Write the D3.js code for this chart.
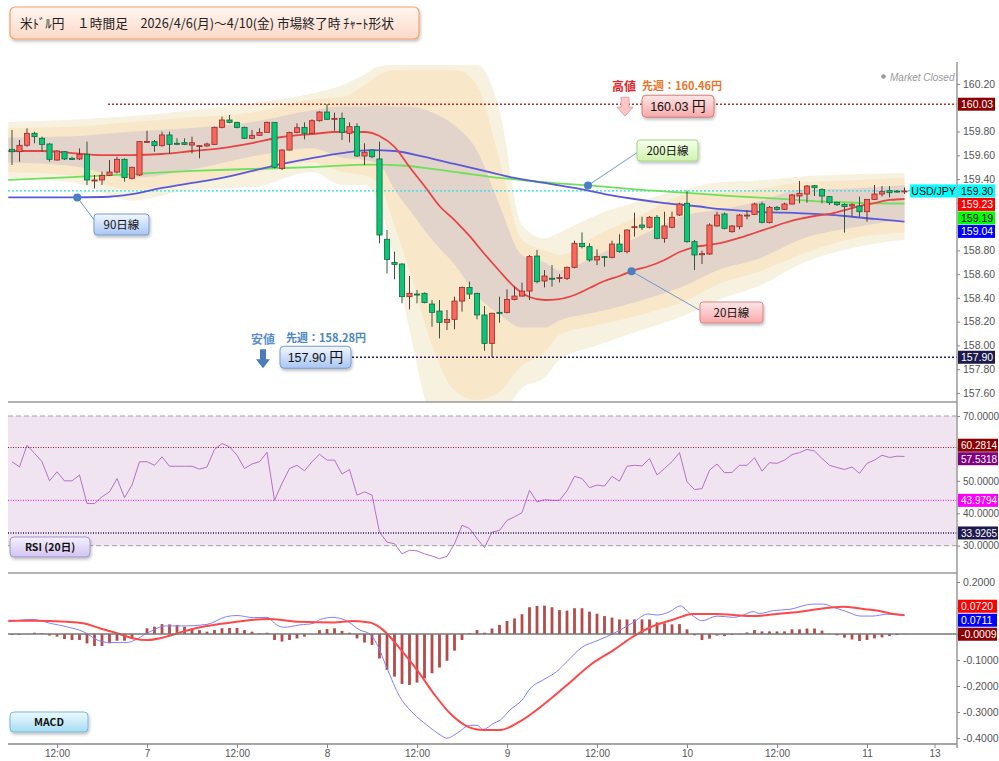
<!DOCTYPE html>
<html><head><meta charset="utf-8">
<script src="https://cdn.jsdelivr.net/npm/d3@7/dist/d3.min.js"></script>
<style>
html,body{margin:0;padding:0;background:#fff;}
svg{display:block;}
text{font-family:"Liberation Sans",Arial,sans-serif;}
.jp{font-family:"Noto Sans CJK JP","Noto Sans",sans-serif;}
</style></head><body>
<svg id="chart" width="999" height="761"></svg>
<script>
// ===================== DATA =====================
const firstHour = 6; // first candle: Apr 6 06:00 JST, one candle per hour (hour index from Apr 6 00:00)
const candleOpen = [159.650,159.630,159.684,159.785,159.743,159.695,159.560,159.630,159.574,159.569,
159.608,159.386,159.392,159.431,159.459,159.566,159.406,159.434,159.712,159.715,
159.681,159.771,159.701,159.706,159.686,159.678,159.678,159.692,159.835,159.897,
159.877,159.835,159.743,159.768,159.793,159.877,159.490,159.644,159.793,159.835,
159.785,159.891,159.964,159.903,159.911,159.785,159.841,159.594,159.644,159.569,
158.893,158.699,158.685,158.410,158.432,158.438,158.348,158.289,158.194,158.219,
158.373,158.488,158.438,158.256,158.017,158.278,158.278,158.387,158.415,158.457,
158.752,158.542,158.565,158.565,158.564,158.657,158.859,158.831,158.719,158.747,
158.741,158.853,158.789,158.994,159.013,158.994,159.078,158.901,158.994,159.097,
159.196,158.873,158.763,158.769,159.005,159.106,158.957,158.999,159.092,159.103,
159.190,159.033,159.162,159.145,159.190,159.257,159.274,159.344,159.313,159.252,
159.204,159.187,159.173,159.173,159.125,159.229,159.274,159.302,159.299,159.298];
const candleHigh = [159.813,159.729,159.827,159.799,159.757,159.701,159.644,159.636,159.588,159.658,
159.715,159.434,159.462,159.560,159.588,159.574,159.504,159.715,159.807,159.729,
159.799,159.799,159.743,159.743,159.757,159.686,159.706,159.841,159.925,159.939,
159.883,159.841,159.813,159.827,159.883,159.880,159.650,159.799,159.869,159.877,
159.903,159.970,160.030,159.959,159.959,159.877,159.869,159.701,159.650,159.714,
158.971,158.789,158.691,158.584,158.466,158.445,158.382,158.382,158.298,158.410,
158.494,158.536,158.443,158.331,158.275,158.410,158.472,158.494,158.528,158.761,
158.803,158.634,158.676,158.600,158.663,158.881,158.951,158.859,158.808,158.752,
158.881,158.935,158.977,159.117,159.083,159.089,159.097,159.125,159.125,159.201,
159.302,158.887,158.797,159.027,159.125,159.117,159.013,159.106,159.139,159.201,
159.210,159.173,159.173,159.201,159.274,159.384,159.350,159.350,159.322,159.257,
159.210,159.196,159.196,159.252,159.229,159.350,159.341,159.341,159.308,159.330];
const candleLow = [159.518,159.546,159.672,159.701,159.630,159.546,159.555,159.560,159.560,159.560,
159.350,159.322,159.350,159.426,159.448,159.378,159.397,159.426,159.706,159.630,
159.672,159.611,159.686,159.686,159.616,159.574,159.672,159.686,159.827,159.869,
159.827,159.737,159.737,159.765,159.790,159.490,159.476,159.639,159.785,159.734,
159.779,159.883,159.897,159.807,159.729,159.709,159.588,159.518,159.574,158.859,
158.606,158.556,158.354,158.303,158.354,158.354,158.157,158.059,158.129,158.135,
158.284,158.390,158.219,157.955,157.900,158.191,158.270,158.380,158.410,158.382,
158.522,158.488,158.494,158.530,158.550,158.648,158.817,158.705,158.676,158.662,
158.733,158.780,158.775,158.915,158.971,158.985,158.893,158.864,158.985,159.089,
158.864,158.634,158.685,158.761,158.999,158.977,158.949,158.977,159.061,159.097,
159.027,159.027,159.134,159.139,159.184,159.196,159.201,159.257,159.196,159.182,
159.173,158.949,159.083,159.083,159.041,159.224,159.252,159.246,159.285,159.274];
const candleClose = [159.630,159.684,159.785,159.757,159.692,159.566,159.636,159.569,159.569,159.608,
159.392,159.392,159.431,159.459,159.566,159.412,159.499,159.715,159.717,159.681,
159.771,159.692,159.698,159.692,159.706,159.681,159.695,159.835,159.897,159.877,
159.835,159.743,159.768,159.793,159.877,159.499,159.644,159.793,159.832,159.785,
159.891,159.964,159.903,159.911,159.793,159.841,159.594,159.625,159.588,158.929,
158.724,158.682,158.410,158.438,158.430,158.360,158.278,158.194,158.219,158.373,
158.488,158.432,158.256,158.017,158.270,158.276,158.387,158.415,158.457,158.747,
158.536,158.584,158.563,158.572,158.657,158.859,158.831,158.719,158.747,158.744,
158.853,158.789,158.971,158.999,158.994,159.078,158.901,159.005,159.078,159.190,
158.873,158.761,158.772,159.013,159.097,158.985,159.005,159.097,159.097,159.190,
159.036,159.162,159.145,159.190,159.266,159.280,159.341,159.327,159.257,159.201,
159.184,159.168,159.184,159.125,159.229,159.274,159.294,159.285,159.297,159.300];

// moving averages (hour index, value)
const ma20Hours = [5.5,6,10,14,18,22,26,30,34,38,42,46,50,53,55,57,59,61,63,65,67,69,71,73,75,77,79,81,83,85,87,89,91,93,95,97,99,101,103,105,107,109,111,113,115,117,119,121,123,125];
const ma20Values = [159.636,159.636,159.636,159.619,159.602,159.602,159.611,159.636,159.661,159.703,159.754,159.779,159.798,159.796,159.762,159.670,159.501,159.341,159.173,159.055,158.921,158.769,158.626,158.491,158.407,158.382,158.390,158.424,158.483,158.542,158.584,158.634,158.668,158.719,158.786,158.828,158.845,158.870,158.904,158.946,158.988,159.030,159.064,159.089,159.106,159.139,159.173,159.198,159.224,159.232];
const ma90Hours = [5.5,6,14,18,22,26,30,34,38,42,46,50,54,57,61,65,69,73,77,81,85,89,93,97,101,105,109,113,117,121,125];
const ma90Values = [159.246,159.246,159.245,159.249,159.274,159.325,159.367,159.409,159.468,159.527,159.577,159.619,159.644,159.636,159.586,159.527,159.468,159.409,159.367,159.325,159.274,159.232,159.198,159.173,159.144,159.125,159.117,159.106,159.089,159.064,159.041];
const ma200Hours = [5.5,14,22,30,38,46,54,58,62,66,70,74,78,84,90,96,102,108,114,120,125];
const ma200Values = [159.392,159.417,159.442,159.468,159.485,159.501,159.522,159.514,159.485,159.451,159.417,159.392,159.367,159.341,159.308,159.283,159.257,159.236,159.211,159.198,159.194];

// volatility bands (three shaded envelopes)
const bandHours = [5.5,14,22,30,38,46,50,53,55,57,59,62,65,68,71,74,77,79,84,90,96,100,106,111,118,125];
const bandUpper3 = [159.88,159.90,159.93,159.98,160.04,160.12,160.19,160.28,160.35,160.36,160.36,160.36,160.36,160.36,159.98,159.01,158.90,158.95,159.10,159.22,159.32,159.37,159.39,159.42,159.44,159.45];
const bandUpper2 = [159.83,159.84,159.88,159.92,159.96,160.07,160.09,160.19,160.28,160.32,160.32,160.32,160.32,160.19,159.56,158.89,158.80,158.76,158.93,159.10,159.27,159.28,159.32,159.37,159.39,159.41];
const bandUpper1 = [159.75,159.76,159.80,159.83,159.88,159.98,160.01,160.01,160.02,160.01,160.01,159.96,159.85,159.64,159.18,158.76,158.70,158.63,158.76,158.93,159.10,159.14,159.22,159.31,159.32,159.35];
const bandLower1 = [159.54,159.51,159.41,159.48,159.59,159.66,159.58,159.56,159.52,159.31,159.14,158.89,158.68,158.42,158.26,158.15,158.15,158.21,158.28,158.38,158.51,158.63,158.74,158.89,158.99,159.06];
const bandLower2 = [159.46,159.43,159.31,159.37,159.45,159.54,159.46,159.43,159.35,159.01,158.63,158.00,157.62,157.54,157.61,157.83,157.94,158.09,158.17,158.26,158.38,158.51,158.63,158.76,158.90,158.95];
const bandLower3 = [159.41,159.37,159.22,159.31,159.33,159.46,159.35,159.35,159.18,158.72,158.13,157.37,157.20,157.20,157.37,157.64,157.73,157.88,158.00,158.13,158.26,158.38,158.51,158.68,158.82,158.89];

// RSI (20) one value per candle
const rsiValues = [55.9,54.3,61.0,58.5,55.9,50.0,52.8,50.0,50.0,51.8,
43.0,43.0,45.1,46.6,50.7,44.8,48.7,55.9,55.9,54.8,
57.4,54.5,54.5,54.5,54.5,53.6,54.3,59.7,61.5,60.5,
57.9,53.8,55.2,55.9,58.8,44.0,49.2,53.8,54.8,53.1,
55.9,58.2,56.4,56.4,52.1,53.5,45.6,46.6,45.6,34.2,
31.1,30.6,27.5,28.6,28.4,27.5,26.8,26.0,26.7,30.6,
36.3,35.3,32.2,29.4,34.2,34.7,37.8,38.9,40.2,47.1,
43.5,44.2,44.0,44.0,46.9,51.4,50.7,47.9,48.7,48.4,
51.4,49.9,54.5,54.8,54.6,56.9,51.8,53.8,55.9,58.7,
49.7,47.3,47.6,53.3,55.2,52.5,52.6,54.8,54.8,57.1,
53.0,55.6,55.4,56.4,58.1,58.7,59.7,59.2,56.9,54.8,
54.1,53.5,54.3,52.3,55.4,56.4,57.9,57.2,57.6,57.5318];
const rsiLevels = [60.2814, 43.9794, 33.9265];
const rsiTicks = [30,40,50,60,70];

// MACD
const macdHours = [5.5,8.8,11.1,13.3,15.5,17.7,19.1,21.3,22.2,24.0,26.6,28.8,32.0,34.6,36.0,38.2,40.0,41.3,42.2,44.4,46.2,47.1,48.8,50.6,52.4,53.7,54.6,56.0,57.7,59.5,61.3,63.1,64.0,65.3,67.1,68.0,68.8,70.2,71.1,72.4,74.0,75.1,76.8,78.6,80.0,82.0,84.0,85.3,86.4,87.5,88.8,90.8,92.0,93.7,95.1,96.4,98.0,100.0,102.2,103.5,104.8,105.7,107.5,109.7,112.8,114.2,115.5,117.3,119.1,120.8,122.6,125.0];
const macdValues = [0.047,0.056,0.041,0.028,0.009,-0.027,-0.033,-0.033,-0.026,0.003,0.031,0.031,0.037,0.067,0.071,0.063,0.064,0.035,0.026,0.035,0.041,0.056,0.064,0.051,0.015,0.000,-0.036,-0.132,-0.241,-0.305,-0.350,-0.388,-0.401,-0.382,-0.351,-0.351,-0.367,-0.344,-0.331,-0.292,-0.254,-0.209,-0.177,-0.145,-0.106,-0.051,-0.026,-0.010,0.005,0.022,0.044,0.077,0.073,0.086,0.108,0.079,0.051,0.069,0.064,0.073,0.086,0.079,0.090,0.095,0.115,0.115,0.103,0.086,0.069,0.069,0.076,0.0711];
const signalHours = [5.5,8.8,13.3,15.5,17.7,20.0,22.2,24.0,26.6,28.8,31.1,35.5,40.0,44.4,48.8,51.5,53.7,55.5,57.7,60.0,62.2,64.4,66.6,68.8,71.1,73.7,76.8,80.0,83.1,86.2,88.8,91.1,94.2,96.8,100.0,102.2,104.8,108.0,111.1,113.3,116.8,119.5,121.3,123.1,125.0];
const signalValues = [0.051,0.051,0.047,0.041,0.022,0.003,-0.017,-0.023,-0.010,0.009,0.026,0.045,0.058,0.047,0.044,0.050,0.044,0.015,-0.055,-0.138,-0.228,-0.305,-0.354,-0.369,-0.369,-0.337,-0.273,-0.196,-0.119,-0.062,-0.010,0.026,0.056,0.077,0.077,0.073,0.069,0.077,0.086,0.095,0.105,0.096,0.090,0.079,0.0720];
const histValues = [-0.004,-0.003,-0.001,0.005,0.003,-0.006,-0.010,-0.019,-0.023,-0.023,
-0.036,-0.046,-0.046,-0.036,-0.026,-0.026,-0.017,-0.001,0.022,0.028,
0.038,0.037,0.035,0.028,0.021,0.015,0.009,0.015,0.022,0.023,
0.023,0.015,0.009,0.002,0.005,-0.023,-0.029,-0.023,-0.017,-0.010,
-0.001,0.015,0.019,0.022,0.012,0.005,-0.017,-0.033,-0.042,-0.094,
-0.138,-0.164,-0.192,-0.196,-0.187,-0.171,-0.151,-0.129,-0.103,-0.064,
-0.023,0.003,0.015,0.005,0.021,0.035,0.050,0.060,0.076,0.103,
0.108,0.109,0.103,0.092,0.090,0.099,0.099,0.086,0.078,0.069,
0.063,0.056,0.056,0.056,0.056,0.056,0.045,0.041,0.037,0.038,
0.018,-0.005,-0.023,-0.018,-0.006,-0.008,-0.004,-0.001,0.006,0.015,
0.010,0.010,0.010,0.010,0.018,0.018,0.021,0.021,0.013,0.001,
-0.005,-0.014,-0.021,-0.027,-0.023,-0.017,-0.013,-0.008,-0.004,-0.0009];
const macdTicks = [-0.4,-0.3,-0.2,-0.1,0,0.1,0.2];

// axes / texts
const priceTicks = [157.6,157.8,158.0,158.2,158.4,158.6,158.8,159.0,159.2,159.4,159.6,159.8,160.0,160.2];
const xTickHours = [12,24,36,48,60,72,84,96,108,120,129];
const xTickLabels = ["12:00","7","12:00","8","12:00","9","12:00","10","12:00","11","13"];
const titleText = "米ﾄﾞﾙ円　１時間足　2026/4/6(月)～4/10(金) 市場終了時 ﾁｬｰﾄ形状";
const lastWeekHigh = "先週：160.46円";
const lastWeekLow = "先週：158.28円";
const symbolName = "USD/JPY";

// ===================== LAYOUT =====================
const svg = d3.select('#chart');
const L = 8, AX = 957;
const mainTop = 60, mainBot = 402, rsiBot = 573, macdBot = 744;
const x = d3.scaleLinear().domain([6,125]).range([12,904.5]);
const yP = d3.scaleLinear().domain([157.6,160.2]).range([392.9,84]);
const yR = d3.scaleLinear().domain([30,70]).range([545.7,416]);
const yM = d3.scaleLinear().domain([-0.4,0.2]).range([738,582]);

const defs = svg.append('defs');
function grad(id,c1,c2){const g=defs.append('linearGradient').attr('id',id).attr('x1',0).attr('y1',0).attr('x2',0).attr('y2',1);
  g.append('stop').attr('offset','0%').attr('stop-color',c1); g.append('stop').attr('offset','100%').attr('stop-color',c2);}
grad('gTitle','#fff5f0','#fcd9c8');
grad('gPink','#ffe6e6','#f6a9a9');
grad('gBlue','#f2f7ff','#a9c6f2');
grad('gGreen','#f6ffec','#d0f2ae');
grad('gRsi','#f6f0ff','#d2c4f0');
grad('gMacd','#eefaff','#a6dcf3');
const f = defs.append('filter').attr('id','sh').attr('x','-10%').attr('y','-20%').attr('width','130%').attr('height','160%');
f.append('feDropShadow').attr('dx',1).attr('dy',2).attr('stdDeviation',1.5).attr('flood-color','#000').attr('flood-opacity',0.25);
function clip(id,y0,y1){defs.append('clipPath').attr('id',id).append('rect').attr('x',L).attr('y',y0).attr('width',AX-L).attr('height',y1-y0);}
clip('cMain',mainTop,mainBot); clip('cRsi',mainBot,rsiBot); clip('cMacd',rsiBot,macdBot);

// ---------- title ----------
svg.append('rect').attr('x',10).attr('y',7).attr('width',409).attr('height',32).attr('rx',5)
  .attr('fill','url(#gTitle)').attr('stroke','#f3a06c').attr('stroke-width',1.2).attr('filter','url(#sh)');
svg.append('text').attr('class','jp').attr('x',20).attr('y',28).attr('font-size',12.7).attr('fill','#222').text(titleText);

// ---------- main panel ----------
const main = svg.append('g').attr('clip-path','url(#cMain)');
const area = (lo,hi)=>d3.area().x((d,i)=>x(bandHours[i])).y0((d,i)=>yP(lo[i])).y1((d,i)=>yP(hi[i])).curve(d3.curveMonotoneX);
main.append('path').datum(bandHours).attr('d',area(bandLower3,bandUpper3)).attr('fill','#f7f1df');
main.append('path').datum(bandHours).attr('d',area(bandLower2,bandUpper2)).attr('fill','#f9e7ca');
main.append('path').datum(bandHours).attr('d',area(bandLower1,bandUpper1)).attr('fill','#e3d4cb');

const lastClose = candleClose[candleClose.length-1];
main.append('line').attr('x1',L).attr('x2',910).attr('y1',yP(lastClose)).attr('y2',yP(lastClose))
  .attr('stroke','#22e0ee').attr('stroke-width',1.2).attr('stroke-dasharray','2,2');

function maLine(hs,vs,color){
  main.append('path').datum(hs).attr('fill','none').attr('stroke',color).attr('stroke-width',1.8)
   .attr('d',d3.line().x((d,i)=>x(hs[i])).y((d,i)=>yP(vs[i])).curve(d3.curveMonotoneX));
}
maLine(ma200Hours,ma200Values,'#6fe05a');
maLine(ma90Hours,ma90Values,'#5a5ad8');
maLine(ma20Hours,ma20Values,'#e64545');

const candles = candleOpen.map((o,i)=>({t:firstHour+i,o:o,hi:candleHigh[i],lo:candleLow[i],c:candleClose[i]}));
const cg = main.append('g');
cg.selectAll('line.w').data(candles).join('line').attr('class','w')
  .attr('x1',d=>x(d.t)).attr('x2',d=>x(d.t)).attr('y1',d=>yP(d.hi)).attr('y2',d=>yP(d.lo))
  .attr('stroke',d=>d.c>=d.o?'#5b3a34':'#2f5a3e').attr('stroke-width',1);
cg.selectAll('rect').data(candles).join('rect')
  .attr('x',d=>x(d.t)-2.6).attr('width',5.2)
  .attr('y',d=>yP(Math.max(d.o,d.c))).attr('height',d=>Math.max(1,Math.abs(yP(d.o)-yP(d.c))))
  .attr('fill',d=>d.c>=d.o?'#f8675a':'#0dc477').attr('stroke',d=>d.c>=d.o?'#9a2a2a':'#0c6a3e').attr('stroke-width',0.8);

const weekHigh = d3.max(candleHigh), weekLow = d3.min(candleLow);
svg.append('line').attr('x1',108).attr('x2',AX).attr('y1',yP(weekHigh)).attr('y2',yP(weekHigh))
  .attr('stroke','#b23030').attr('stroke-width',1.6).attr('stroke-dasharray','2,2');
svg.append('line').attr('x1',352).attr('x2',AX).attr('y1',yP(weekLow)).attr('y2',yP(weekLow))
  .attr('stroke','#262060').attr('stroke-width',1.6).attr('stroke-dasharray','2,2');

// callouts for moving averages
function callout(hs,vs,h,bx,by,bw,label,fill,stroke,ex,ey){
  const s = d3.scaleLinear().domain(hs).range(vs);
  const px = x(h), py = yP(s(h));
  svg.append('line').attr('x1',px).attr('y1',py).attr('x2',ex).attr('y2',ey).attr('stroke','#5d8fc9').attr('stroke-width',0.9);
  svg.append('circle').attr('cx',px).attr('cy',py).attr('r',4).attr('fill','#4a7fc2');
  svg.append('rect').attr('x',bx).attr('y',by).attr('width',bw).attr('height',21).attr('rx',3)
    .attr('fill',fill).attr('stroke',stroke).attr('filter','url(#sh)');
  svg.append('text').attr('class','jp').attr('x',bx+bw/2).attr('y',by+15).attr('text-anchor','middle')
    .attr('font-size',11.5).attr('fill','#111').text(label);
}
callout(ma90Hours,ma90Values,14.7,94,214,55,'90日線','url(#gBlue)','#7b9bd2',95,221);
callout(ma200Hours,ma200Values,82.8,637,140,61,'200日線','url(#gGreen)','#a6d684',638,152);
callout(ma20Hours,ma20Values,88.6,700,302,63,'20日線','url(#gPink)','#d48888',701,311);

// high / low annotations
const hy = yP(weekHigh), ly = yP(weekLow);
svg.append('text').attr('class','jp').attr('x',612).attr('y',hy-13).attr('font-size',12).attr('font-weight','bold').attr('fill','#e4262a').text('高値');
svg.append('text').attr('class','jp').attr('x',642).attr('y',hy-14).attr('font-size',11).attr('font-weight','bold').attr('fill','#e8742c').text(lastWeekHigh);
svg.append('path').attr('d',`M621,${hy-7}h8v10h4l-8,9l-8,-9h4z`).attr('fill','#fbc6c6').attr('stroke','#e39494').attr('stroke-width',0.8);
svg.append('rect').attr('x',642).attr('y',hy-9).attr('width',72).attr('height',22).attr('rx',4)
  .attr('fill','url(#gPink)').attr('stroke','#d07a7a').attr('filter','url(#sh)');
const ht = svg.append('text').attr('x',678).attr('y',hy+7).attr('text-anchor','middle').attr('font-size',12.5).attr('fill','#111');
ht.append('tspan').text(weekHigh.toFixed(2)+' '); ht.append('tspan').attr('class','jp').attr('font-size',14).text('円');

svg.append('text').attr('class','jp').attr('x',251).attr('y',ly-13).attr('font-size',12).attr('font-weight','bold').attr('fill','#5b8fd0').text('安値');
svg.append('text').attr('class','jp').attr('x',286).attr('y',ly-15).attr('font-size',11).attr('font-weight','bold').attr('fill','#4a86bf').text(lastWeekLow);
svg.append('path').attr('d',`M260,${ly-8}h6v10h4l-7,9l-7,-9h4z`).attr('fill','#4a7bbb');
svg.append('rect').attr('x',280).attr('y',ly-11).attr('width',71).attr('height',22).attr('rx',4)
  .attr('fill','url(#gBlue)').attr('stroke','#7b9bd2').attr('filter','url(#sh)');
const lt = svg.append('text').attr('x',315.5).attr('y',ly+5).attr('text-anchor','middle').attr('font-size',12.5).attr('fill','#111');
lt.append('tspan').text(weekLow.toFixed(2)+' '); lt.append('tspan').attr('class','jp').attr('font-size',14).text('円');

// Market closed
svg.append('circle').attr('cx',883.5).attr('cy',76.5).attr('r',2.3).attr('fill','#999');
svg.append('text').attr('x',890).attr('y',80.5).attr('font-size',10).attr('font-style','italic').attr('fill','#9a9a9a').text('Market Closed');

// ---------- RSI panel ----------
const rsi = svg.append('g').attr('clip-path','url(#cRsi)');
rsi.append('rect').attr('x',L).attr('y',yR(70)).attr('width',AX-L-1).attr('height',yR(30)-yR(70)).attr('fill','#f1e4f1');
[70,30].forEach(v=>svg.append('line').attr('x1',L).attr('x2',AX).attr('y1',yR(v)).attr('y2',yR(v))
  .attr('stroke','#a0a0a0').attr('stroke-width',1).attr('stroke-dasharray','5,3'));
const rsiLevelColors = ['#8b1a1a','#ff00ff','#1e1a4e'];
rsiLevels.forEach((v,i)=>svg.append('line').attr('x1',L).attr('x2',AX).attr('y1',yR(v)).attr('y2',yR(v))
  .attr('stroke',rsiLevelColors[i]).attr('stroke-width',i==2?1.5:1).attr('stroke-dasharray','1,1.5'));
rsi.append('path').datum(rsiValues).attr('fill','none').attr('stroke','#b66fc8').attr('stroke-width',1)
  .attr('d',d3.line().x((d,i)=>x(firstHour+i)).y(d=>yR(d)));

// ---------- MACD panel ----------
const mac = svg.append('g').attr('clip-path','url(#cMacd)');
svg.append('line').attr('x1',L).attr('x2',AX).attr('y1',yM(0)).attr('y2',yM(0)).attr('stroke','#777').attr('stroke-width',1.5);
mac.selectAll('rect').data(histValues).join('rect')
  .attr('x',(d,i)=>x(firstHour+i)-1.4).attr('width',2.8)
  .attr('y',d=>Math.min(yM(0),yM(d))).attr('height',d=>Math.abs(yM(d)-yM(0)))
  .attr('fill','#b54b4b');
mac.append('path').datum(macdHours).attr('fill','none').attr('stroke','#8080ff').attr('stroke-width',1)
  .attr('d',d3.line().x((d,i)=>x(macdHours[i])).y((d,i)=>yM(macdValues[i])).curve(d3.curveMonotoneX));
mac.append('path').datum(signalHours).attr('fill','none').attr('stroke','#ff4848').attr('stroke-width',2)
  .attr('d',d3.line().x((d,i)=>x(signalHours[i])).y((d,i)=>yM(signalValues[i])).curve(d3.curveMonotoneX));

// ---------- frame lines ----------
[mainBot,rsiBot].forEach(y=>svg.append('line').attr('x1',L).attr('x2',AX).attr('y1',y).attr('y2',y).attr('stroke','#999').attr('stroke-width',1.5));
svg.append('line').attr('x1',AX).attr('x2',AX).attr('y1',62).attr('y2',748).attr('stroke','#999').attr('stroke-width',1.5);

// ---------- right-side value labels (positions) ----------
function resolve(list,gap){
  list.sort((a,b)=>a.y-b.y);
  for(let it=0;it<300;it++){let moved=false;
    for(let i=0;i<list.length-1;i++){const a=list[i],b=list[i+1];const ov=gap-(b.y-a.y);
      if(ov>0.01){moved=true; if(a.fixed) b.y+=ov; else if(b.fixed) a.y-=ov; else {a.y-=ov/2;b.y+=ov/2;}}}
    if(!moved)break;}
  return list;
}
const mainLabels = resolve([
  {t:lastClose.toFixed(2),y:yP(lastClose),bg:'#00ffff',fg:'#000',fixed:true},
  {t:ma20Values[ma20Values.length-1].toFixed(2),y:yP(ma20Values[ma20Values.length-1]),bg:'#ff0000',fg:'#fff'},
  {t:ma200Values[ma200Values.length-1].toFixed(2),y:yP(ma200Values[ma200Values.length-1]),bg:'#00ff00',fg:'#000'},
  {t:ma90Values[ma90Values.length-1].toFixed(2),y:yP(ma90Values[ma90Values.length-1]),bg:'#0000ff',fg:'#fff'},
  {t:weekHigh.toFixed(2),y:yP(weekHigh),bg:'#8b0000',fg:'#fff',fixed:true},
  {t:weekLow.toFixed(2),y:yP(weekLow),bg:'#1e1a4e',fg:'#fff',fixed:true}],13.5);
const rsiLast = rsiValues[rsiValues.length-1];
const rsiLabels = resolve([
  {t:rsiLevels[0].toFixed(4),y:yR(rsiLevels[0]),bg:'#8b0000',fg:'#fff'},
  {t:rsiLast.toFixed(4),y:yR(rsiLast),bg:'#800080',fg:'#fff'},
  {t:rsiLevels[1].toFixed(4),y:yR(rsiLevels[1]),bg:'#ff00ff',fg:'#fff'},
  {t:rsiLevels[2].toFixed(4),y:yR(rsiLevels[2]),bg:'#1e1a4e',fg:'#fff'}],13.5);
const macdLast = macdValues[macdValues.length-1], sigLast = signalValues[signalValues.length-1], histLast = histValues[histValues.length-1];
const macdLabels = resolve([
  {t:sigLast.toFixed(4),y:yM(sigLast),bg:'#ff0000',fg:'#fff'},
  {t:macdLast.toFixed(4),y:yM(macdLast),bg:'#0000ff',fg:'#fff'},
  {t:histLast.toFixed(4),y:yM(histLast),bg:'#8b0000',fg:'#fff',fixed:true}],14);

// ---------- axes ----------
function styleAxis(g){g.select('.domain').remove(); g.selectAll('line').attr('stroke','#888');
  g.selectAll('text').attr('fill','#555').attr('font-size',10.5).attr('font-family','"Liberation Sans",Arial,sans-serif');}
function hideCovered(g,scale,labels){
  g.selectAll('.tick').filter(d=>labels.some(l=>Math.abs(scale(d)-l.y)<7)).select('text').remove();
}
const gP = svg.append('g').attr('transform',`translate(${AX},0)`)
  .call(d3.axisRight(yP).tickValues(priceTicks).tickSize(3).tickPadding(3).tickFormat(d=>d.toFixed(2))).call(styleAxis);
hideCovered(gP,yP,mainLabels);
const gR = svg.append('g').attr('transform',`translate(${AX},0)`)
  .call(d3.axisRight(yR).tickValues(rsiTicks).tickSize(3).tickPadding(3).tickFormat(d=>d.toFixed(4))).call(styleAxis);
gR.selectAll('text').attr('font-size',10);
hideCovered(gR,yR,rsiLabels);
const gM = svg.append('g').attr('transform',`translate(${AX},0)`)
  .call(d3.axisRight(yM).tickValues(macdTicks).tickSize(3).tickPadding(3).tickFormat(d=>d.toFixed(4))).call(styleAxis);
hideCovered(gM,yM,macdLabels);
const xa = svg.append('g').attr('transform',`translate(0,${macdBot})`)
  .call(d3.axisBottom(x).tickValues(xTickHours).tickSize(4).tickPadding(2).tickFormat((d,i)=>xTickLabels[i])).call(styleAxis);
xa.selectAll('text').attr('font-size',10);
svg.append('line').attr('x1',L).attr('x2',AX).attr('y1',macdBot).attr('y2',macdBot).attr('stroke','#888').attr('stroke-width',1.5);

// ---------- draw value labels ----------
function drawLabels(list,w,fs){
  list.forEach(d=>{
    svg.append('rect').attr('x',AX+1).attr('y',d.y-6.5).attr('width',w).attr('height',13).attr('fill',d.bg);
    svg.append('text').attr('x',AX+4).attr('y',d.y+4).attr('font-size',fs).attr('fill',d.fg).text(d.t);
  });
}
drawLabels(mainLabels,37,10.5);
svg.append('rect').attr('x',910).attr('y',yP(lastClose)-6.5).attr('width',47).attr('height',13).attr('fill','#00ffff');
svg.append('text').attr('x',933.5).attr('y',yP(lastClose)+4).attr('text-anchor','middle').attr('font-size',10.5).attr('fill','#000').text(symbolName);
drawLabels(rsiLabels,40,10);
drawLabels(macdLabels,39,10.5);

// ---------- panel name boxes ----------
function panelBox(y,w,label,fill,stroke){
  svg.append('rect').attr('x',10).attr('y',y).attr('width',w).attr('height',20).attr('rx',4)
    .attr('fill',fill).attr('stroke',stroke).attr('filter','url(#sh)');
  svg.append('text').attr('class','jp').attr('x',10+w/2).attr('y',y+14).attr('text-anchor','middle')
    .attr('font-size',10.5).attr('font-weight','bold').attr('fill','#111').text(label);
}
panelBox(537,80,'RSI (20日)','url(#gRsi)','#a293cb');
panelBox(712,78,'MACD','url(#gMacd)','#79b8d6');
</script>
</body></html>
